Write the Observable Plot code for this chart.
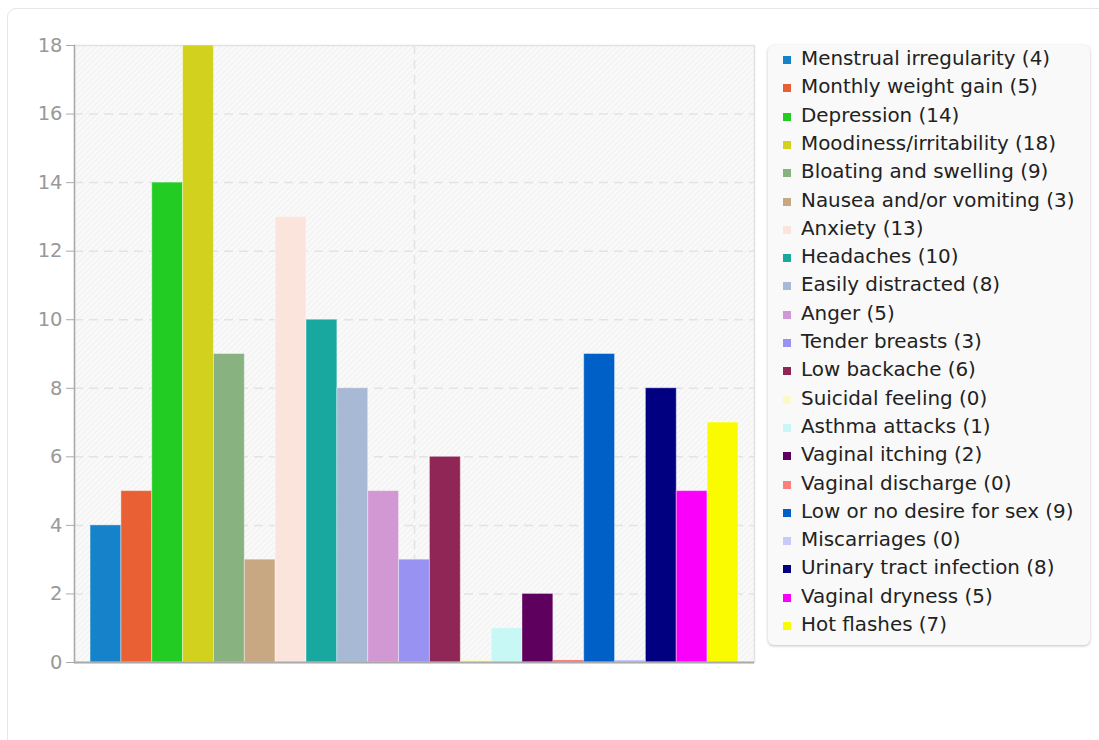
<!DOCTYPE html>
<html>
<head>
<meta charset="utf-8">
<script src="https://cdn.jsdelivr.net/npm/d3@7"></script>
<script src="https://cdn.jsdelivr.net/npm/@observablehq/plot@0.6"></script>
<style>
  html, body { margin: 0; padding: 0; background: #fff; font-family: "DejaVu Sans", sans-serif; }
  #card { position: absolute; left: 7px; top: 8px; width: 1200px; height: 800px; border: 1px solid #e6e6e6; border-radius: 9px; box-sizing: border-box; }
  #chart { position: absolute; left: 0; top: 0; }
  #legend { position: absolute; left: 768px; top: 45px; width: 322px; height: 600px; background: #f9f9f9; border-radius: 6px; box-shadow: 0 1px 3px rgba(0,0,0,0.25); box-sizing: border-box; }
  .item { position: absolute; left: 0; height: 28px; line-height: 28px; font-size: 19.9px; color: #222; white-space: nowrap; }
  .sw { position: absolute; left: 15px; top: 11px; width: 8px; height: 8px; }
  .lbl { position: absolute; left: 33px; top: 0; }
</style>
</head>
<body>
<div id="card"></div>
<div id="chart"></div>
<div id="legend"></div>
<script>
const categories = [
  "Menstrual irregularity", "Monthly weight gain", "Depression", "Moodiness/irritability",
  "Bloating and swelling", "Nausea and/or vomiting", "Anxiety", "Headaches",
  "Easily distracted", "Anger", "Tender breasts", "Low backache", "Suicidal feeling",
  "Asthma attacks", "Vaginal itching", "Vaginal discharge", "Low or no desire for sex",
  "Miscarriages", "Urinary tract infection", "Vaginal dryness", "Hot flashes"
];
const counts = [4, 5, 14, 18, 9, 3, 13, 10, 8, 5, 3, 6, 0, 1, 2, 0, 9, 0, 8, 5, 7];
const colors = [
  "#1682c9", "#e86034", "#22cc22", "#d2d21e", "#88b280", "#c8a882", "#fae4dc", "#19a8a0",
  "#a7b9d4", "#d298d4", "#9893f2", "#902656", "#fafac8", "#c8f8f5", "#5e005e", "#fa8080",
  "#0060c8", "#c8c8fa", "#000080", "#fa00fa", "#fafa00"
];
const yTicks = [0, 2, 4, 6, 8, 10, 12, 14, 16, 18];

const data = categories.map((c, i) => ({cat: c, v: counts[i], color: colors[i]}));

const chart = Plot.plot({
  width: 760,
  height: 700,
  marginLeft: 74,
  marginRight: 6,
  marginTop: 45,
  marginBottom: 38,
  style: {fontFamily: "DejaVu Sans, sans-serif", fontSize: "19.5px", background: "transparent", overflow: "visible"},
  x: {type: "band", domain: categories, paddingInner: 0, paddingOuter: 0.52, round: false, axis: null},
  y: {domain: [0, 18], axis: null},
  color: {type: "identity"},
  marks: [
    Plot.frame({fill: "#f9f9f9"}),
    Plot.frame({fill: "url(#hatch)"}),
    Plot.ruleY(yTicks.filter(t => t > 0 && t < 18), {stroke: "#e3e3e3", strokeWidth: 1.5, strokeDasharray: "9,6"}),
    Plot.ruleX([categories[10]], {stroke: "#e3e3e3", strokeWidth: 1.5, strokeDasharray: "9,6"}),
    Plot.frame({stroke: "#e2e2e2", strokeWidth: 1.5}),
    Plot.barY(data, {x: "cat", y: "v", fill: "color", stroke: "white", strokeOpacity: 0.4, strokeWidth: 1}),
    Plot.tickY(data.filter(d => d.v === 0), {x: "cat", y: "v", stroke: "color", strokeWidth: 3, dy: -1}),
    Plot.ruleY([0], {stroke: "#aaa", strokeWidth: 2}),
    Plot.frame({anchor: "left", stroke: "#aaa", strokeWidth: 1.5}),
    Plot.axisY({ticks: yTicks, label: null, tickSize: 8, tickPadding: 4, stroke: "#aaa", color: "#999", fontSize: "19.5px"})
  ]
});

chart.insertAdjacentHTML("afterbegin",
  '<defs><pattern id="hatch" patternUnits="userSpaceOnUse" width="4" height="4" patternTransform="rotate(45)">' +
  '<line x1="0" y1="0" x2="0" y2="4" stroke="#ebebeb" stroke-width="1.2"/></pattern></defs>');
document.getElementById("chart").appendChild(chart);

const legend = document.getElementById("legend");
data.forEach((d, i) => {
  const item = document.createElement("div");
  item.className = "item";
  item.style.top = (0 + i * 28.3) + "px";
  const sw = document.createElement("div");
  sw.className = "sw";
  sw.style.background = d.color;
  const lbl = document.createElement("div");
  lbl.className = "lbl";
  lbl.textContent = `${d.cat} (${d.v})`;
  item.appendChild(sw);
  item.appendChild(lbl);
  legend.appendChild(item);
});
</script>
</body>
</html>
